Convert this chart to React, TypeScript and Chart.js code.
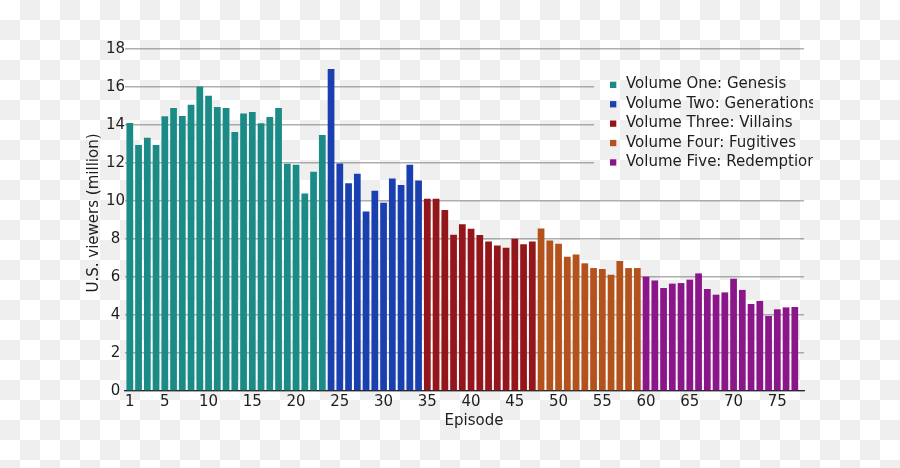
import React, { useEffect, useRef } from "react";
import { Chart, registerables } from "chart.js";

Chart.register(...registerables);

// ---- data ----
const volumeNames = [
  "Volume One: Genesis",
  "Volume Two: Generations",
  "Volume Three: Villains",
  "Volume Four: Fugitives",
  "Volume Five: Redemption",
];
const volumeColors = ["#1b8b87", "#1a40b0", "#94161a", "#b4521c", "#8a168a"];
const volumeFirstEpisode = [1, 24, 35, 48, 60];
const volumeLastEpisode = [23, 34, 47, 59, 77];

// U.S. viewers (million), episodes 1..77
const viewers = [
  14.1, 12.95, 13.33, 12.95, 14.46, 14.89, 14.47, 15.07, 16.02, 15.54,
  14.95, 14.89, 13.63, 14.61, 14.68, 14.09, 14.42, 14.89, 11.96, 11.91,
  10.4, 11.54, 13.47, 16.95, 11.98, 10.93, 11.43, 9.45, 10.54, 9.91,
  11.19, 10.84, 11.91, 11.08, 10.12, 10.12, 9.52, 8.22, 8.77, 8.54,
  8.21, 7.87, 7.66, 7.54, 8.01, 7.73, 7.87, 8.55, 7.92, 7.75,
  7.07, 7.18, 6.72, 6.47, 6.42, 6.12, 6.84, 6.47, 6.47, 6.02,
  5.82, 5.42, 5.65, 5.68, 5.86, 6.19, 5.37, 5.07, 5.19, 5.91,
  5.32, 4.58, 4.74, 3.95, 4.3, 4.4, 4.42,
];

const xTickLabels = [1, 5, 10, 15, 20, 25, 30, 35, 40, 45, 50, 55, 60, 65, 70, 75];
const yMin = 0;
const yMax = 18;
const yStep = 2;
const xTitle = "Episode";
const yTitle = "U.S. viewers (million)";

const FONT = "'DejaVu Sans', 'Noto Sans', sans-serif";
const TEXT = "#1e1e1e";

const overlayPlugin = {
  id: "overlay",
  afterDraw(chart: any) {
    const ctx: CanvasRenderingContext2D = chart.ctx;
    ctx.save();
    ctx.fillStyle = TEXT;
    ctx.font = `15px ${FONT}`;
    ctx.textAlign = "center";
    ctx.textBaseline = "alphabetic";
    ctx.fillText(xTitle, 474, 425);
    ctx.translate(97.5, 213);
    ctx.rotate(-Math.PI / 2);
    ctx.fillText(yTitle, 0, 0);
    ctx.restore();

    // legend box (transparent background hides gridlines beneath)
    ctx.save();
    ctx.clearRect(594, 66, 222, 112);
    ctx.beginPath();
    ctx.rect(594, 66, 219, 112);
    ctx.clip();
    ctx.font = `15px ${FONT}`;
    ctx.textAlign = "left";
    ctx.textBaseline = "alphabetic";
    volumeNames.forEach((name, i) => {
      const base = 88.3 + i * 19.4;
      ctx.fillStyle = volumeColors[i];
      ctx.fillRect(610, base - 6.6, 6.3, 6.3);
      ctx.fillStyle = TEXT;
      ctx.fillText(name, 626, base);
    });
    ctx.restore();
  },
};

export default function App() {
  const ref = useRef<HTMLCanvasElement>(null);

  useEffect(() => {
    if (!ref.current) return;
    const datasets = volumeNames.map((name, i) => {
      const data: { x: number; y: number }[] = [];
      for (let ep = volumeFirstEpisode[i]; ep <= volumeLastEpisode[i]; ep++) {
        data.push({ x: ep, y: viewers[ep - 1] });
      }
      return {
        label: name,
        data,
        backgroundColor: volumeColors[i],
        borderWidth: 0,
        grouped: false,
        barPercentage: 0.77,
        categoryPercentage: 1,
      };
    });

    const chart = new Chart(ref.current, {
      type: "bar",
      data: { datasets } as any,
      options: {
        animation: false,
        responsive: false,
        maintainAspectRatio: false,
        layout: { padding: { left: 0, right: 96, top: 49, bottom: 0 } },
        plugins: {
          legend: { display: false },
          tooltip: { enabled: false },
          title: { display: false },
        },
        scales: {
          x: {
            type: "linear",
            offset: false,
            min: 0.451,
            max: 78.05,
            grid: { display: false },
            border: { display: true, color: "#262626", width: 1.3 },
            afterFit: (s: any) => {
              s.height = 77;
            },
            afterBuildTicks: (s: any) => {
              s.ticks = xTickLabels.map((v) => ({ value: v }));
            },
            ticks: {
              autoSkip: false,
              maxRotation: 0,
              padding: -6,
              color: TEXT,
              font: { family: FONT, size: 15 },
              callback: (v: any) => String(v),
            },
          },
          y: {
            min: yMin,
            max: yMax,
            grid: { color: "rgba(110,110,110,0.55)", lineWidth: 1.5, drawTicks: false },
            border: { display: false },
            afterFit: (s: any) => {
              s.width = 125;
            },
            ticks: {
              stepSize: yStep,
              padding: 0,
              crossAlign: "center",
              color: TEXT,
              font: { family: FONT, size: 15 },
            },
          },
        },
      },
      plugins: [overlayPlugin],
    } as any);
    return () => chart.destroy();
  }, []);

  return (
    <div
      style={{
        position: "fixed",
        left: 0,
        top: 0,
        width: 900,
        height: 468,
        background: "repeating-conic-gradient(#efefef 0% 25%, #ffffff 0% 50%) 0 0 / 40px 40px",
      }}
    >
      <canvas ref={ref} width={900} height={468} style={{ display: "block", width: 900, height: 468 }} />
    </div>
  );
}
